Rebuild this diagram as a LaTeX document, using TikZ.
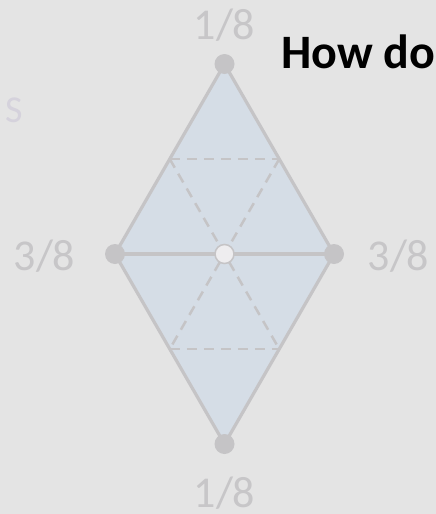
\documentclass[tikz,border=0pt]{standalone}
\usepackage{fontspec}
\setmainfont{Carlito}
\usetikzlibrary{calc}
\definecolor{bgc}{HTML}{E4E4E4}
\definecolor{fillc}{HTML}{D5DDE6}
\definecolor{edgec}{HTML}{C5C4C6}
\definecolor{txtc}{HTML}{C7C6C8}
\definecolor{sc}{HTML}{D5D2DC}
\definecolor{ctrc}{HTML}{EEEDEF}
\begin{document}
\begin{tikzpicture}[x=1pt,y=-1pt,
  edge/.style={draw=edgec,line width=3.2pt,line join=round},
  dashline/.style={draw=edgec,line width=2.5pt,dash pattern=on 10pt off 7pt},
  vdot/.style={circle,fill=edgec,inner sep=0pt,minimum size=20pt},
  cdot/.style={circle,fill=ctrc,draw=edgec,line width=1.5pt,inner sep=0pt,minimum size=19pt},
  prob/.style={text=txtc,font=\fontsize{44}{50}\selectfont,inner sep=0pt,anchor=base}]
\useasboundingbox (0,0) rectangle (436,514);
\fill[bgc] (0,0) rectangle (436,514);
\coordinate (T) at (224.5,64);
\coordinate (B) at (224.5,444);
\coordinate (L) at (115,254);
\coordinate (R) at (334,254);
\coordinate (C) at (224.5,254);
\fill[fillc] (T) -- (R) -- (B) -- (L) -- cycle;
\coordinate (TL) at ($(T)!0.5!(L)$);
\coordinate (TR) at ($(T)!0.5!(R)$);
\coordinate (BL) at ($(B)!0.5!(L)$);
\coordinate (BR) at ($(B)!0.5!(R)$);
\draw[dashline] (TL) -- (TR);
\draw[dashline] (BL) -- (BR);
\draw[dashline] (TL) -- (BR);
\draw[dashline] (TR) -- (BL);
\draw[edge] (T) -- (R) -- (B) -- (L) -- cycle;
\draw[edge] (L) -- (R);
\node[vdot] (nT) at (T) {};
\node[vdot] (nB) at (B) {};
\node[vdot] (nL) at (L) {};
\node[vdot] (nR) at (R) {};
\node[cdot] (nC) at (C) {};
\node[prob] (lT) at (224.5,39) {1/8};
\node[prob] (lB) at (224.5,507) {1/8};
\node[prob] (lL) at (44.5,270) {3/8};
\node[prob] (lR) at (398.5,270) {3/8};
\node[text=sc,font=\fontsize{38}{44}\selectfont,inner sep=0pt,anchor=base west] (s) at (5,122) {S};
\begin{scope}
\clip (0,0) rectangle (436,514);
\node[font=\bfseries\fontsize{48}{54}\selectfont,inner sep=0pt,anchor=base west] (title) at (281,68) {How do};
\end{scope}
\end{tikzpicture}
\end{document}
